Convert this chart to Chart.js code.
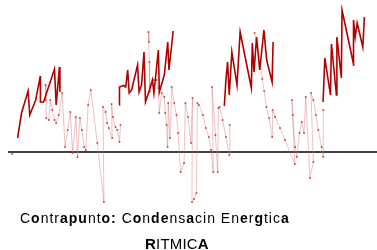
<!DOCTYPE html>
<html>
<head>
<meta charset="utf-8">
<script src="https://cdn.jsdelivr.net/npm/chart.js@4/dist/chart.umd.min.js"></script>
<style>
  html, body { margin: 0; padding: 0; background: #fff; }
  canvas { display: block; }
</style>
</head>
<body>
<canvas id="chart" width="377" height="250"></canvas>
<script>
// voz principal (rojo oscuro), null = silencio
const darkX = [9.7, 13.7, 20.3, 22, 28, 32.7, 32.8, 36, 47, 48.7, 52, 52.5,
  80,
  112.5, 112.7, 117, 119, 121, 122.5, 125, 131, 132.5, 135, 137.5, 139, 143, 146, 147.5, 152, 153, 158, 161.5, 162.7, 167,
  200,
  218.7, 220.3, 222, 223.7, 226.3, 231.5, 234.7, 246, 247, 248.7, 251.3, 254.5, 258.7, 261.5, 267, 268,
  300,
  318.5, 320.3, 326, 327, 332, 332.5, 337, 337.7, 349.5, 349.3, 351, 353, 358.7, 360.3]
const darkY = [14, 39, 61, 37, 52, 76, 50, 50, 83, 47, 85, 60,
  null,
  47, 65, 66.5, 65, 82, 59, 62, 87, 60, 67, 100, 50, 62, 72, 59, 102, 60, 77, 110, 82, 121,
  null,
  46, 72, 90, 57, 100, 67, 120, 64, 109, 80, 115, 82, 122, 92, 70, 110,
  null,
  50, 94, 57, 108, 57, 115, 74, 142, 87, 132, 115, 129, 105, 135]

// contrapunto (rosa con puntos)
const lightX = [4.3, 20,
  38, 38.3, 38.7, 41.3, 42.7, 44.7, 47, 48.7, 51.3, 54.7, 57.7, 60.3, 63, 65.3, 68.7, 70.3, 72.7, 74.7, 77, 78.7,
  81, 83.7, 90.3, 97, 96, 98.7, 100.3, 102, 105.3, 104.7, 106, 108.7, 110.5, 112.7, 113.7,
  125,
  142, 142.4, 142.8, 143.2, 147, 150.3, 152, 153, 155.3, 158, 159, 160.3, 161.3, 162, 163.7, 165.5, 168, 170.3,
  172, 174.5, 178, 179.3, 182, 185, 186.5, 186, 188, 190.5, 191.5, 193, 197, 200, 203, 205.3, 207.5, 206.3,
  209.7, 212, 212.7, 214, 217, 220.3, 223.7, 224.3,
  240,
  249.3, 252, 255, 257, 259, 261.3, 264, 267, 267.5, 270, 275, 280, 285, 290, 287, 288, 290.3, 292, 294.7,
  297, 299.3, 301, 305.3, 308.7, 306.3, 308.7, 311.3, 313.7, 317, 318.7, 318.7]
const lightY = [-2, null,
  67, 52, 34, 32, 52, 42, 32, 29, 37, 59, 5, 22, 40, -1, 35, -5, 34, 22, 5, 2,
  47, 62, 9, -50, 45, 40, 29, 24, 14, 48, 35, 25, 22, 10, 27,
  null,
  120, 110, 90, 60, 72, 72, 64, 39, 59, 55, 39, 27, 5, 49, 14, 65, 49, 37,
  19, -20, -11, 49, 35, 9, 54, -50, -47, -41, 49, 47, 37, 24, 15, 2, -20, 65,
  17, -20, 44, 45, 32, 15, -3, 27,
  null,
  119, 105, 87, 73, 61, 45, 34, 15, 42, 35, 24, 12, 0, -12, 52, 37, 5, -5, 19,
  30, 19, 55, -26, -10, 59, 52, 37, 22, 5, -5, 42]

const titleText = 'Contrapunto: Condensacin Energtica'
const subtitleText = 'RITMICA'
// letras que salen mas gruesas en el original
const titleBold = [1, 5, 6, 7, 10, 11, 14, 16, 17, 20, 27, 29, 33]
const subtitleBold = [0, 6]

const toPoints = (xs, ys) => xs.map((x, i) => ({ x: x, y: ys[i] }))

function drawMixed (ctx, text, bold, x, y, size, spacing) {
  for (let i = 0; i < text.length; i++) {
    ctx.font = (bold.includes(i) ? 'bold ' : '') + size + 'px "Liberation Sans", Arial, sans-serif'
    ctx.fillText(text[i], x, y)
    x += ctx.measureText(text[i]).width + spacing
  }
}

const overlay = {
  id: 'overlay',
  beforeDatasetsDraw (chart) {
    const { ctx, chartArea, scales } = chart
    const y0 = scales.y.getPixelForValue(0)
    ctx.save()
    ctx.strokeStyle = '#000'
    ctx.lineWidth = 1.6
    ctx.beginPath()
    ctx.moveTo(chartArea.left, y0)
    ctx.lineTo(chart.width, y0)
    ctx.stroke()
    ctx.restore()
  },
  afterDraw (chart) {
    const ctx = chart.ctx
    ctx.save()
    ctx.fillStyle = '#000'
    ctx.textBaseline = 'alphabetic'
    drawMixed(ctx, titleText, titleBold, 20, 223, 14, 1.0)
    drawMixed(ctx, subtitleText, subtitleBold, 145, 249, 15, 0.2)
    ctx.restore()
  }
}

new Chart(document.getElementById('chart').getContext('2d'), {
  type: 'line',
  data: {
    datasets: [
      {
        data: toPoints(darkX, darkY),
        borderColor: '#b00000',
        borderWidth: 1.6,
        pointRadius: 0,
        tension: 0
      },
      {
        data: toPoints(lightX, lightY),
        borderColor: 'rgba(215, 120, 120, 0.45)',
        borderWidth: 1,
        pointRadius: 1,
        pointBorderWidth: 0,
        pointBackgroundColor: 'rgba(190, 40, 40, 0.8)',
        tension: 0
      }
    ]
  },
  options: {
    responsive: false,
    animation: false,
    layout: { padding: { left: 8, right: 0, top: 5, bottom: 45 } },
    plugins: {
      legend: { display: false },
      tooltip: { enabled: false }
    },
    scales: {
      x: { type: 'linear', min: 0, max: 369, display: false },
      y: { min: -53, max: 147, display: false }
    }
  },
  plugins: [overlay]
})
</script>
</body>
</html>
